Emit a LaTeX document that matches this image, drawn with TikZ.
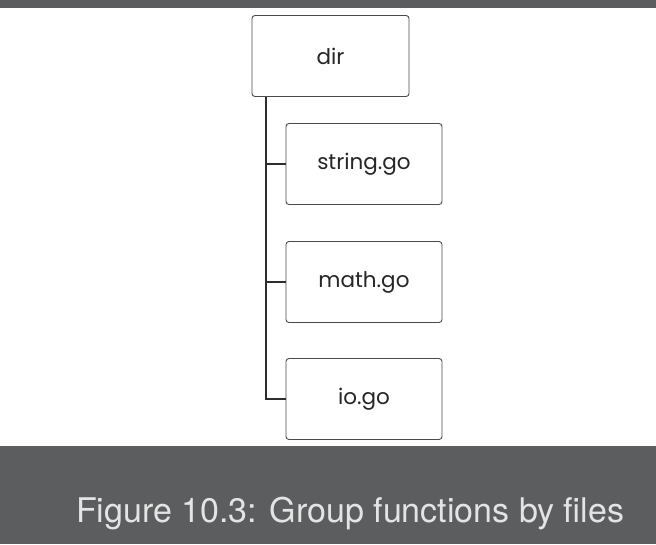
\documentclass[tikz,border=0pt]{standalone}
\usepackage{fontspec}
\newfontfamily\boxfont{Poppins}
\newfontfamily\capfont{TeX Gyre Heros}
\definecolor{band}{HTML}{5C5D5F}
\definecolor{captxt}{HTML}{E4E4E4}
\definecolor{boxline}{HTML}{4A4A4A}
\definecolor{conn}{HTML}{2E2E2E}
\begin{document}
\begin{tikzpicture}[x=1pt,y=-1pt,
  filebox/.style={draw=boxline,line width=0.9pt,rounded corners=3pt,fill=white,
    minimum width=156pt,minimum height=81pt,inner sep=0pt,
    font=\boxfont\fontsize{21.5}{24}\selectfont,text=black!85},
  link/.style={draw=conn,line width=1.8pt}]
\useasboundingbox (0,0) rectangle (656,544);
\fill[white] (0,0) rectangle (656,544);
\fill[band] (0,0) rectangle (656,8);
\fill[band] (0,446) rectangle (656,544);
\node[filebox,minimum width=157pt] (dir) at (330.5,56) {dir};
\node[filebox] (str) at (364,164) {string.go};
\node[filebox] (math) at (364,282) {math.go};
\node[filebox] (io) at (364,399) {io.go};
\coordinate (trunk) at (266,97);
\draw[link] (trunk) -- (trunk |- io.west) -- (io.west);
\draw[link] (trunk |- str.west) -- (str.west);
\draw[link] (trunk |- math.west) -- (math.west);
\node[anchor=base west,inner sep=0pt,text=captxt,font=\capfont\fontsize{34}{40}\selectfont] (cap) at (76,522) {Figure 10.3: Group functions by files};
\end{tikzpicture}
\end{document}
